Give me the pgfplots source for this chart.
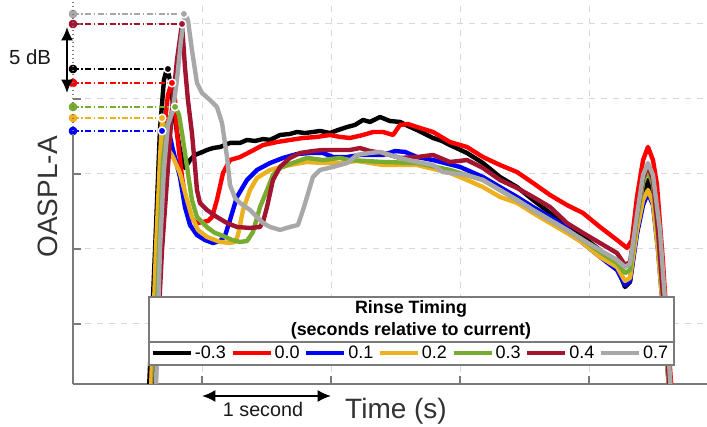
\documentclass[border=0pt]{standalone}
\usepackage{pgfplots}
\pgfplotsset{compat=1.18}
\usepackage{fontspec}
\setmainfont{Liberation Sans}
\usetikzlibrary{arrows.meta}
\definecolor{cBlack}{HTML}{000000}
\definecolor{cRed}{HTML}{FF0000}
\definecolor{cBlue}{HTML}{0000FF}
\definecolor{cOrange}{HTML}{EDB120}
\definecolor{cGreen}{HTML}{77AC30}
\definecolor{cDark}{HTML}{A2142F}
\definecolor{cGrey}{HTML}{A8A8A8}
\definecolor{axisgray}{HTML}{7A7A7A}
\definecolor{gridgray}{HTML}{D8D8D8}
\definecolor{labelgray}{HTML}{333333}
\begin{document}
\begin{tikzpicture}
\begin{axis}[
  width=475.5pt, height=288pt, scale only axis,
  xmin=0, xmax=4.9147, ymin=1, ymax=26.6,
  axis x line*=bottom, axis y line*=left,
  xtick={1,2,3,4}, ytick={5,10,15,20,25},
  xticklabels={}, yticklabels={},
  tick align=inside, major tick length=6pt,
  grid=major,
  grid style={dash pattern=on 4.5pt off 4.5pt, color=gridgray, line width=0.75pt},
  x axis line style={axisgray, line width=1.1pt},
  y axis line style={draw=none},
  tick style={axisgray, line width=1.1pt},
  clip mode=individual,
  every axis plot/.append style={line width=3.3pt, line join=round},
  legend image code/.code={\draw[#1, line width=3pt] (0pt,0pt) -- (28.5pt,0pt);},
  legend style={at={(axis cs:2.616,3.07)}, anchor=center, draw=none, fill=none,
    font=\fontsize{13.5}{15}\selectfont, inner sep=0pt,
    nodes={inner xsep=1.5pt, inner ysep=1pt},
    /tikz/every even column/.append style={column sep=2pt}},
  legend columns=7,
]
% ---- curves ----
\addplot[cBlack] coordinates {
(0.589,0.6) (0.636,9.93) (0.674,17.93) (0.705,21.27) (0.729,22.07) (0.752,21.27) (0.791,18.6) (0.829,16.6) (0.868,15.4) (0.907,15.93) (0.946,16.27) (0.984,16.4) (1.039,16.6) (1.085,16.73) (1.140,16.8) (1.217,17.07) (1.295,17.07) (1.349,17.27) (1.411,17.2) (1.473,17.33) (1.527,17.27) (1.605,17.6) (1.682,17.67) (1.736,17.8) (1.798,17.73) (1.860,17.8) (1.915,17.87) (1.992,17.73) (2.054,17.93) (2.124,18.13) (2.186,18.27) (2.248,18.6) (2.302,18.47) (2.380,18.8) (2.457,18.53) (2.535,18.47) (2.597,18.2) (2.667,17.93) (2.729,17.67) (2.791,17.4) (2.860,17.2) (2.922,16.93) (3.054,16.4) (3.178,15.73) (3.310,14.8) (3.442,14.13) (3.566,13.27) (3.698,12.4) (3.829,11.47) (3.953,10.8) (4.085,9.93) (4.217,8.8) (4.279,7.47) (4.318,7.8) (4.372,11.27) (4.419,13.6) (4.457,14.6) (4.496,13.6) (4.535,10.6) (4.574,6.6) (4.612,1.93) (4.628,0.27)};
\addlegendentry{-0.3}
\addplot[cRed] coordinates {
(0.605,0.6) (0.651,9.93) (0.698,17.27) (0.736,20.27) (0.767,21.13) (0.791,19.93) (0.806,17.73) (0.845,14.8) (0.884,12.8) (0.930,11.93) (0.961,11.73) (1.008,11.8) (1.047,11.87) (1.078,12.13) (1.116,13.27) (1.163,15.07) (1.217,15.93) (1.295,16.13) (1.372,16.47) (1.473,16.93) (1.581,17.13) (1.682,17.27) (1.783,17.4) (1.891,17.47) (1.992,17.6) (2.070,17.47) (2.147,17.4) (2.248,17.6) (2.326,17.8) (2.403,17.8) (2.481,17.6) (2.535,18.27) (2.597,18.33) (2.667,18.13) (2.791,17.8) (2.922,17.13) (3.054,16.8) (3.178,16.13) (3.310,15.6) (3.442,15.13) (3.566,14.4) (3.698,13.6) (3.829,12.93) (3.953,12.4) (4.085,11.47) (4.217,10.6) (4.295,10.07) (4.333,10.6) (4.372,13.47) (4.419,15.93) (4.457,16.8) (4.496,15.93) (4.527,14.27) (4.574,9.07) (4.612,3.93) (4.643,0.27)};
\addlegendentry{0.0}
\addplot[cBlue] coordinates {
(0.612,0.6) (0.651,9.93) (0.674,15.27) (0.690,17.73) (0.713,17.6) (0.752,17.47) (0.775,16.6) (0.829,14.8) (0.868,12.8) (0.907,11.6) (0.961,10.93) (1.023,10.6) (1.085,10.4) (1.140,10.53) (1.178,10.87) (1.217,11.93) (1.271,13.47) (1.349,14.6) (1.426,15.27) (1.527,15.73) (1.628,16.07) (1.736,16.33) (1.837,16.4) (1.938,16.4) (2.016,16.13) (2.124,16.13) (2.225,16.27) (2.403,16.27) (2.496,16.53) (2.574,16.47) (2.667,16.13) (2.791,15.93) (3.000,15.47) (3.178,14.8) (3.310,14.13) (3.442,13.47) (3.566,12.8) (3.698,12.13) (3.829,11.4) (3.953,10.4) (4.085,9.47) (4.217,8.6) (4.279,7.6) (4.318,7.87) (4.372,11.0) (4.419,12.93) (4.457,13.73) (4.496,12.93) (4.535,9.93) (4.574,5.93) (4.612,1.6) (4.628,0.27)};
\addlegendentry{0.1}
\addplot[cOrange] coordinates {
(0.605,0.6) (0.643,9.93) (0.674,15.93) (0.690,18.6) (0.713,17.6) (0.729,16.8) (0.775,16.13) (0.829,15.07) (0.884,13.27) (0.922,12.13) (0.969,11.27) (1.039,10.8) (1.140,10.47) (1.217,10.4) (1.256,10.47) (1.279,10.93) (1.318,12.6) (1.372,13.93) (1.426,14.73) (1.527,15.27) (1.682,15.6) (1.814,15.8) (1.938,15.73) (2.070,15.73) (2.202,15.87) (2.403,15.6) (2.667,15.6) (2.922,15.07) (3.054,14.6) (3.178,14.13) (3.310,13.47) (3.442,13.07) (3.566,12.4) (3.698,11.73) (3.829,11.07) (3.953,10.4) (4.085,9.47) (4.217,8.8) (4.279,7.87) (4.318,8.07) (4.372,11.27) (4.419,13.27) (4.457,13.93) (4.496,13.07) (4.535,9.93) (4.574,5.93) (4.612,1.6) (4.628,0.27)};
\addlegendentry{0.2}
\addplot[cGreen] coordinates {
(0.628,0.6) (0.667,9.93) (0.698,15.93) (0.729,18.27) (0.767,19.13) (0.798,19.4) (0.822,18.93) (0.845,17.73) (0.884,15.47) (0.922,13.27) (0.961,12.13) (1.000,11.8) (1.047,11.4) (1.101,11.07) (1.163,10.87) (1.233,10.6) (1.295,10.47) (1.349,10.53) (1.395,11.13) (1.450,12.8) (1.504,13.93) (1.550,14.93) (1.605,15.4) (1.682,15.67) (1.814,16.07) (1.938,15.93) (2.070,16.07) (2.147,15.93) (2.403,15.8) (2.667,15.73) (2.922,15.27) (3.178,14.6) (3.310,13.93) (3.442,13.27) (3.566,12.6) (3.698,11.93) (3.829,11.27) (3.953,10.6) (4.085,9.8) (4.217,9.07) (4.279,8.4) (4.318,8.6) (4.372,11.93) (4.419,14.4) (4.457,15.27) (4.496,14.27) (4.535,10.93) (4.574,6.6) (4.612,1.93) (4.628,0.27)};
\addlegendentry{0.3}
\addplot[cDark] coordinates {
(0.636,0.6) (0.690,9.93) (0.729,14.6) (0.767,19.27) (0.806,22.6) (0.845,25.0) (0.868,22.13) (0.891,19.93) (0.922,17.73) (0.946,15.47) (0.961,13.93) (0.984,13.07) (1.039,12.6) (1.116,12.13) (1.194,11.73) (1.271,11.47) (1.372,11.4) (1.450,11.47) (1.473,11.8) (1.504,12.8) (1.550,14.6) (1.605,15.47) (1.682,16.07) (1.760,16.4) (1.860,16.53) (1.938,16.6) (2.070,16.6) (2.147,16.6) (2.225,16.73) (2.302,16.53) (2.403,16.4) (2.535,16.07) (2.667,16.13) (2.791,16.27) (2.922,15.8) (3.054,15.93) (3.178,15.4) (3.310,14.6) (3.442,14.07) (3.566,13.47) (3.698,12.8) (3.829,11.73) (3.953,11.07) (4.085,10.4) (4.217,9.73) (4.279,8.93) (4.318,9.13) (4.372,12.27) (4.419,14.73) (4.457,15.6) (4.496,14.6) (4.535,11.27) (4.574,6.93) (4.612,2.27) (4.628,0.27)};
\addlegendentry{0.4}
\addplot[cGrey] coordinates {
(0.643,0.6) (0.674,9.93) (0.705,15.27) (0.736,18.27) (0.775,19.27) (0.806,21.27) (0.837,23.93) (0.868,25.67) (0.891,25.27) (0.922,23.27) (0.961,21.07) (1.000,20.4) (1.062,19.93) (1.116,19.47) (1.155,18.4) (1.194,16.13) (1.217,14.27) (1.256,13.4) (1.295,13.07) (1.372,12.6) (1.426,12.13) (1.473,11.73) (1.527,11.47) (1.605,11.27) (1.682,11.47) (1.744,11.6) (1.783,12.6) (1.814,13.47) (1.860,14.8) (1.915,15.27) (2.016,15.47) (2.124,15.73) (2.202,16.27) (2.302,16.4) (2.380,16.47) (2.535,16.07) (2.667,15.8) (2.791,15.6) (2.868,15.13) (3.054,14.93) (3.178,14.6) (3.310,13.93) (3.442,13.27) (3.566,12.6) (3.698,11.93) (3.829,11.27) (3.953,10.6) (4.085,9.93) (4.217,9.27) (4.279,8.8) (4.318,9.0) (4.372,12.27) (4.419,14.93) (4.457,15.73) (4.496,14.93) (4.550,11.27) (4.605,4.6) (4.636,0.27)};
\addlegendentry{0.7}
% ---- peak reference lines ----
\pgfplotsset{refline/.style={line width=1.1pt, dash pattern=on 4.5pt off 1.8pt on 1.1pt off 1.8pt, forget plot},
  leftdot/.style={only marks, mark=*, mark size=1.6pt, forget plot},
  peakdot/.style={only marks, mark=*, mark size=2.9pt, mark options={draw=white, fill=#1, line width=1.1pt}, forget plot}}
\addplot[refline, cGrey]  coordinates {(0,25.67) (0.860,25.67)};
\addplot[refline, cDark]  coordinates {(0,25.0) (0.845,25.0)};
\addplot[refline, cBlack] coordinates {(0,22.0) (0.736,22.0)};
\addplot[refline, cRed]   coordinates {(0,21.07) (0.767,21.07)};
\addplot[refline, cGreen] coordinates {(0,19.47) (0.791,19.47)};
\addplot[refline, cOrange] coordinates {(0,18.73) (0.690,18.73)};
\addplot[refline, cBlue]  coordinates {(0,17.87) (0.690,17.87)};
\addplot[leftdot, cGrey] coordinates {(0,25.67)};
\addplot[leftdot, cDark] coordinates {(0,25.0)};
\addplot[leftdot, cBlack] coordinates {(0,22.0)};
\addplot[leftdot, cRed] coordinates {(0,21.07)};
\addplot[leftdot, cGreen] coordinates {(0,19.47)};
\addplot[leftdot, cOrange] coordinates {(0,18.73)};
\addplot[leftdot, cBlue] coordinates {(0,17.87)};
\addplot[peakdot=cGrey] coordinates {(0.860,25.67)};
\addplot[peakdot=cDark] coordinates {(0.845,25.0)};
\addplot[peakdot=cBlack] coordinates {(0.736,22.0)};
\addplot[peakdot=cRed] coordinates {(0.767,21.07)};
\addplot[peakdot=cGreen] coordinates {(0.791,19.47)};
\addplot[peakdot=cOrange] coordinates {(0.690,18.73)};
\addplot[peakdot=cBlue] coordinates {(0.690,17.87)};
% ---- y axis line: solid lower part, dotted upper part ----
\draw[axisgray, line width=1.1pt] (axis cs:0,1) -- (axis cs:0,17.6);
\draw[axisgray, line width=0.8pt, dash pattern=on 1pt off 2pt] (axis cs:0,17.6) -- (axis cs:0,26.6);
% ---- legend box ----
\draw[fill=white, draw=axisgray, line width=1.1pt] (axis cs:0.589,2.267) rectangle (axis cs:4.659,6.8);
\draw[axisgray, line width=1.1pt] (axis cs:0.589,3.8) -- (axis cs:4.659,3.8);
\node[font=\bfseries\fontsize{13.4}{16.5}\selectfont, align=center] at (axis cs:2.62,5.25)
  {Rinse Timing\\(seconds relative to current)};
% ---- annotations ----
\draw[{Latex[length=10pt,width=9pt]}-{Latex[length=10pt,width=9pt]}, line width=1.5pt, black]
  (axis cs:-0.0465,24.8) -- (axis cs:-0.0465,20.4);
\node[font=\fontsize{15.3}{17}\selectfont, anchor=base, text=black!90] at (axis cs:-0.333,22.33) {5 dB};
\draw[{Latex[length=10pt,width=9pt]}-{Latex[length=10pt,width=9pt]}, line width=1.5pt, black]
  (axis cs:1.0,0.2) -- (axis cs:2.0,0.2);
\node[font=\fontsize{14.8}{17}\selectfont, anchor=base, text=black!90] at (axis cs:1.473,-1.2) {1 second};
\node[font=\fontsize{21}{24}\selectfont, anchor=base, text=labelgray] at (axis cs:2.504,-1.27) {Time (s)};
\node[font=\fontsize{21}{24}\selectfont, rotate=90, text=labelgray] at (axis cs:-0.194,13.47) {OASPL-A};
\coordinate (O) at (rel axis cs:0,0);
\end{axis}
\pgfresetboundingbox
\path[use as bounding box] ([shift={(-54.75pt,-32.25pt)}]O) rectangle ([shift={(475.5pt,288pt)}]O);
\end{tikzpicture}
\end{document}
